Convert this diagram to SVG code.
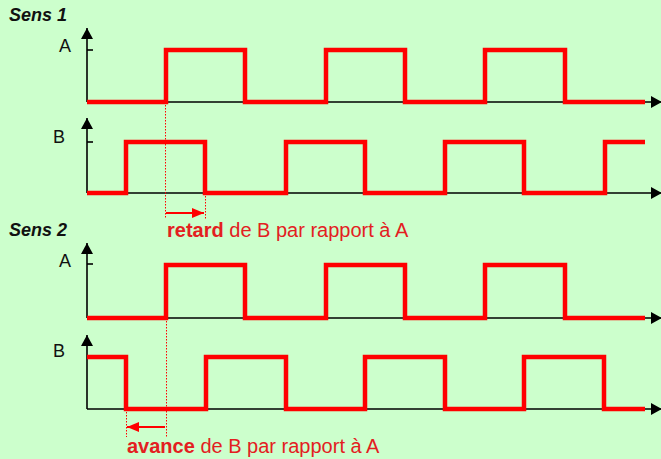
<svg xmlns="http://www.w3.org/2000/svg" width="661" height="459" viewBox="0 0 661 459">
<defs>
<style>
.axis{stroke:#000;stroke-width:1.6;fill:none}
.sig{stroke:#FF0000;stroke-width:4.5;fill:none;stroke-linejoin:miter}
.dot{stroke:#FF0000;stroke-width:1;stroke-dasharray:1.5 1.5;fill:none}
.lbl{font-family:"Liberation Sans",Arial,sans-serif;font-size:18px;fill:#111}
.title{font-family:"Liberation Sans",Arial,sans-serif;font-size:18px;font-weight:bold;font-style:italic;fill:#111}
.note{font-family:"Liberation Sans",Arial,sans-serif;font-size:20px;fill:#E3201F}
</style>
<marker id="up" markerWidth="12" markerHeight="12" refX="6" refY="0" orient="0" markerUnits="userSpaceOnUse"><path d="M0,11 L6,0 L12,11 Z" fill="#000"/></marker>
<marker id="ra" markerWidth="11" markerHeight="12" refX="11" refY="6" orient="0" markerUnits="userSpaceOnUse"><path d="M0,0 L11,6 L0,12 Z" fill="#000"/></marker>
<marker id="rr" markerWidth="12" markerHeight="10" refX="12" refY="5" orient="auto" markerUnits="userSpaceOnUse"><path d="M0,0 L12,5 L0,10 Z" fill="#FF0000"/></marker>
</defs>
<rect x="0" y="0" width="661" height="459" fill="#CCFFCC"/>
<text class="title" x="9" y="21">Sens 1</text>
<text class="title" x="9" y="236">Sens 2</text>
<g id="sens1-A">
<text class="lbl" x="59" y="52">A</text>
<path class="axis" d="M87,102 V28" marker-end="url(#up)"/>
<path class="axis" d="M87,50 H93"/>
<path class="axis" d="M87,102 H662" marker-end="url(#ra)"/>
<polyline class="sig" points="87,102 166,102 166,50 245,50 245,102 326,102 326,50 405,50 405,102 485,102 485,50 565,50 565,102 645,102"/>
</g>
<g id="sens1-B">
<text class="lbl" x="53" y="143">B</text>
<path class="axis" d="M87,193 V118" marker-end="url(#up)"/>
<path class="axis" d="M87,142 H93"/>
<path class="axis" d="M87,193 H662" marker-end="url(#ra)"/>
<polyline class="sig" points="87,193 126,193 126,142 205,142 205,193 286,193 286,142 365,142 365,193 445,193 445,142 524,142 524,193 605,193 605,142 645,142"/>
</g>
<g id="sens2-A">
<text class="lbl" x="59" y="267">A</text>
<path class="axis" d="M87,318 V243" marker-end="url(#up)"/>
<path class="axis" d="M87,264 H93"/>
<path class="axis" d="M87,318 H662" marker-end="url(#ra)"/>
<polyline class="sig" points="87,318 166,318 166,265 245,265 245,318 326,318 326,265 405,265 405,318 485,318 485,265 565,265 565,318 645,318"/>
</g>
<g id="sens2-B">
<text class="lbl" x="53" y="357">B</text>
<path class="axis" d="M87,409 V335" marker-end="url(#up)"/>
<path class="axis" d="M87,409 H662" marker-end="url(#ra)"/>
<polyline class="sig" points="87,357 126,357 126,409 206,409 206,357 286,357 286,409 365,409 365,357 445,357 445,409 524,409 524,357 604,357 604,409 645,409"/>
</g>
<g id="connectors">
<path class="dot" d="M165.5,102 V219"/>
<path class="dot" d="M205.5,193 V219"/>
<path d="M166,213 H204" stroke="#FF0000" stroke-width="2" marker-end="url(#rr)"/>
<path class="dot" d="M166.5,318 V437"/>
<path class="dot" d="M126.5,409 V437"/>
<path d="M165,427 H127" stroke="#FF0000" stroke-width="2" marker-end="url(#rr)"/>
</g>
<text class="note" x="167" y="237"><tspan font-weight="bold">retard</tspan> de B par rapport à A</text>
<text class="note" x="127" y="453"><tspan font-weight="bold">avance</tspan> de B par rapport à A</text>
</svg>
